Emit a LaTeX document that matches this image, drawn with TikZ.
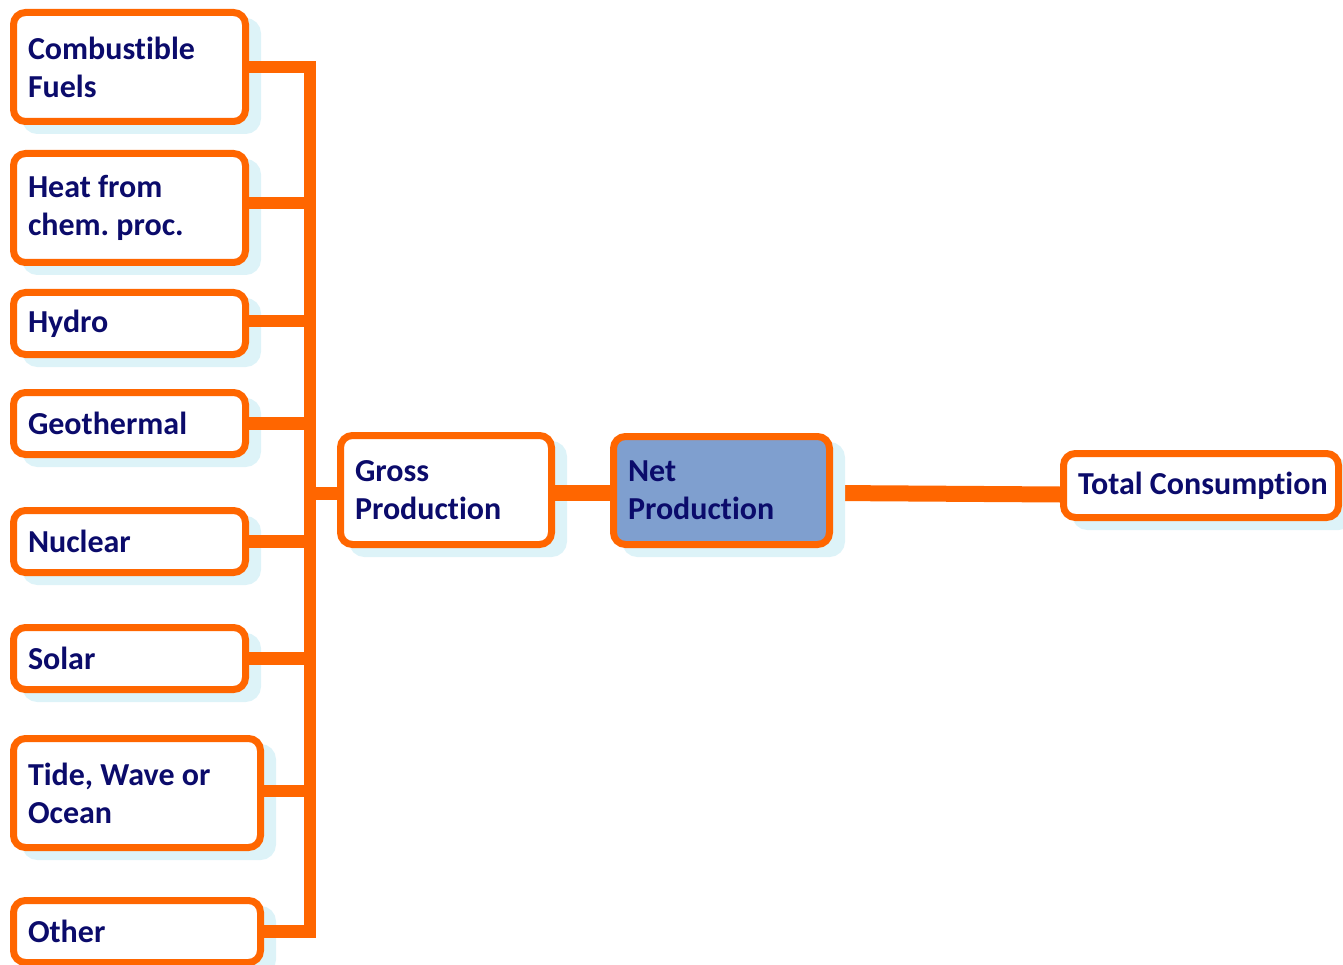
\documentclass[tikz,border=0pt]{standalone}
\usepackage{fontspec}
\setmainfont[Ligatures=NoCommon]{Carlito}
\usetikzlibrary{calc}
\definecolor{flow}{HTML}{FF6600}
\definecolor{ink}{HTML}{0B0B6B}
\definecolor{haze}{HTML}{DDF3F8}
\definecolor{netfill}{HTML}{7F9FCF}
\pgfdeclarelayer{background}
\pgfsetlayers{background,main}
\frenchspacing
\tikzset{
  box/.style n args={3}{
    draw=flow, line width=7pt, rounded corners=12pt, fill=white,
    minimum width=#1, minimum height=#2, text width=#3,
    inner xsep=14.5pt, inner ysep=4pt, align=flush left, text=ink,
    font=\fontsize{32}{38}\selectfont\bfseries,
    preaction={fill=haze, draw=haze,
      transform canvas={xshift=12pt, yshift=-9pt}}},
  link/.style={draw=flow, line width=12.5pt, line join=miter, line cap=butt},
}
\begin{document}
\begin{tikzpicture}[x=1pt,y=-1pt]
\useasboundingbox (0,0) rectangle (1343,965);

% energy sources
\node[box={232pt}{109pt}{203pt}] (comb)  at (129.5,67)    {Combustible\\Fuels};
\node[box={232pt}{109pt}{203pt}] (heat)  at (129.5,208)   {Heat from\\chem. proc.};
\node[box={232pt}{62pt}{203pt}]  (hydro) at (129.5,323.5) {Hydro};
\node[box={232pt}{62pt}{203pt}]  (geo)   at (129.5,423.5) {Geothermal};
\node[box={232pt}{62pt}{203pt}]  (nuc)   at (129.5,541.5) {Nuclear};
\node[box={232pt}{62pt}{203pt}]  (solar) at (129.5,658.5) {Solar};
\node[box={247pt}{109pt}{218pt}] (tide)  at (137,793)     {Tide, Wave or\\Ocean};
\node[box={247pt}{62pt}{218pt}]  (other) at (137,931.5)   {Other};

% production and consumption
\node[box={211pt}{109pt}{182pt}] (gross) at (446,490)     {Gross\\Production};
\node[box={216pt}{108pt}{187pt}, fill=netfill] (net) at (721.5,490.5) {Net\\Production};
\node[box={275pt}{64pt}{246pt}]  (total) at (1201,485.5)  {\mbox{Total Consumption}};

% collecting bus
\coordinate (bus) at (310,0);
\draw[link] (comb.east) -- (comb.east -| bus) -- (other.east -| bus) -- (other.east);
\coordinate (heatc) at ($(heat.east)+(0,-5)$);
\draw[link] (heatc) -- (heatc -| bus);
\coordinate (hydroc) at ($(hydro.east)+(0,-2.5)$);
\draw[link] (hydroc) -- (hydroc -| bus);
\draw[link] (geo.east) -- (geo.east -| bus);
\draw[link] (nuc.east) -- (nuc.east -| bus);
\draw[link] (solar.east) -- (solar.east -| bus);
\coordinate (tidec) at ($(tide.east)+(0,-2)$);
\draw[link] (tidec) -- (tidec -| bus);
\coordinate (grossin) at ($(gross.west)+(0,3.5)$);
\draw[link] (grossin -| bus) -- (grossin);
\coordinate (grossout) at ($(gross.east)+(0,3)$);
\draw[link, line width=16pt] (grossout) -- (grossout -| net.west);

% net production to consumption, passing under the shadow
\begin{pgfonlayer}{background}
  \draw[link, line width=16pt] ($(net.east)+(0,2.5)$) -- ($(total.west)+(0,9)$);
\end{pgfonlayer}
\end{tikzpicture}
\end{document}
